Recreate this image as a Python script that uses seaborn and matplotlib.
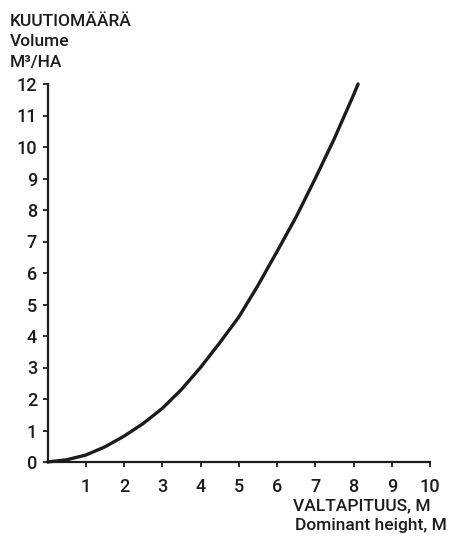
import matplotlib

matplotlib.use("Agg")

import matplotlib.pyplot as plt
import pandas as pd
import seaborn as sns

# dominant height (m) and volume (m3/ha)
heights = [0.0, 0.5, 1.0, 1.5, 2.0, 2.5, 3.0, 3.5, 4.0, 4.5,
           5.0, 5.5, 6.0, 6.5, 7.0, 7.5, 8.0, 8.12]
volumes = [0.0, 0.07, 0.22, 0.48, 0.82, 1.22, 1.70, 2.30, 3.00, 3.78,
           4.60, 5.60, 6.68, 7.78, 9.00, 10.27, 11.65, 12.0]

x_ticks = list(range(1, 11))
y_ticks = list(range(0, 13))

title_lines = ["KUUTIOMÄÄRÄ", "Volume", "M³/HA"]
xlabel_lines = ["VALTAPITUUS, M", "Dominant height, M"]

INK = "#1c1c1c"
FS = 12.5


def main() -> None:
    sns.set_style("ticks")
    plt.rcParams["font.family"] = ["Roboto", "DejaVu Sans"]
    plt.rcParams["font.weight"] = "medium"

    df = pd.DataFrame({"height": heights, "volume": volumes})

    W, H = 449, 536
    fig = plt.figure(figsize=(W / 100, H / 100), dpi=100)
    ax = fig.add_axes([47.5 / W, 1 - 462 / H, (430 - 47.5) / W, (462 - 84) / H])

    sns.lineplot(data=df, x="height", y="volume", ax=ax, color=INK,
                 linewidth=2.4, clip_on=False)
    ax.lines[0].set_solid_capstyle("round")
    ax.lines[0].set_solid_joinstyle("round")

    ax.set_xlim(0, 10)
    ax.set_ylim(0, 12)
    ax.set_xticks(x_ticks)
    ax.set_yticks(y_ticks)
    ax.set_xlabel("")
    ax.set_ylabel("")

    for side in ["top", "right"]:
        ax.spines[side].set_visible(False)
    for side in ["left", "bottom"]:
        ax.spines[side].set_linewidth(1.6)
        ax.spines[side].set_color(INK)

    ax.tick_params(axis="both", direction="out", length=3.5, width=1.3,
                   colors=INK, labelsize=13)
    ax.tick_params(axis="x", pad=8)
    ax.tick_params(axis="y", pad=4)

    # y axis title block, top left
    for txt, base in zip(title_lines, [26, 46, 67]):
        fig.text(10 / W, 1 - base / H, txt, fontsize=FS, color=INK,
                 ha="left", va="baseline")

    # x axis title block, bottom right
    for txt, right, base in zip(xlabel_lines, [431, 447], [510, 530]):
        fig.text(right / W, 1 - base / H, txt, fontsize=FS, color=INK,
                 ha="right", va="baseline")

    fig.savefig("out.png", dpi=100)
    plt.close(fig)


if __name__ == "__main__":
    main()
